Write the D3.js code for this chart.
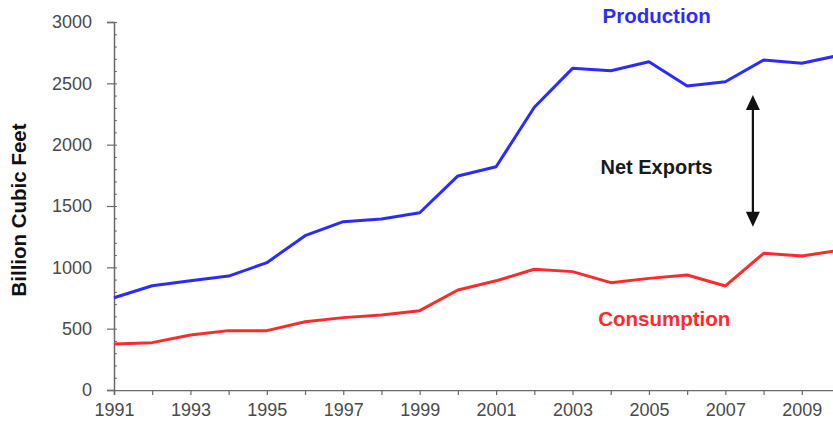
<!DOCTYPE html>
<html>
<head>
<meta charset="utf-8">
<script src="https://cdn.jsdelivr.net/npm/d3@7"></script>
<style>
  html, body { margin: 0; padding: 0; background: #fff; }
  svg { display: block; font-family: Arial, "Liberation Sans", sans-serif; }
</style>
</head>
<body>
<svg id="chart" width="833" height="429"></svg>
<script>
// Annual natural gas production and consumption, billion cubic feet
const years = d3.range(1991, 2011);
const production  = [752, 850, 891, 929, 1038, 1258, 1372, 1394, 1445, 1745, 1820, 2305, 2622, 2603, 2676, 2478, 2513, 2690, 2663, 2730];
const consumption = [375, 386, 448, 484, 484, 557, 590, 611, 647, 815, 890, 984, 965, 875, 910, 937, 848, 1114, 1092, 1140];
const yTicks = [0, 500, 1000, 1500, 2000, 2500, 3000];
const xTickLabels = [1991, 1993, 1995, 1997, 1999, 2001, 2003, 2005, 2007, 2009];

// Annotation: gap between the two series, in data units
const arrowYear = 2007.72;
const arrowFrom = 1330;
const arrowTo = 2405;

const svg = d3.select("#chart");
const W = 833, H = 429;

const x = d3.scaleLinear().domain([1991, 2010]).range([114, 840]);
const y = d3.scaleLinear().domain([0, 3000]).range([390, 22]);

svg.append("defs").append("clipPath").attr("id", "plotClip")
  .append("rect").attr("x", 0).attr("y", 0).attr("width", W).attr("height", H);

const axisColor = "#6a6a6a";
const labelColor = "#4a4a4a";

// Y axis: major ticks outward, minor ticks every 100 inward
const yAxis = svg.append("g").attr("transform", "translate(114,0)")
  .call(d3.axisLeft(y).tickValues(yTicks).tickSize(7).tickPadding(15).tickFormat(d3.format("d")));
yAxis.select(".domain").attr("stroke", axisColor).attr("stroke-width", 1.5);
yAxis.selectAll(".tick line").attr("stroke", axisColor).attr("stroke-width", 1.2);
yAxis.selectAll(".tick text").attr("fill", labelColor).style("font-size", "18px");

const yMinor = svg.append("g").attr("transform", "translate(114,0)")
  .call(d3.axisRight(y).tickValues(d3.range(0, 3001, 100)).tickSize(3).tickFormat(""));
yMinor.select(".domain").remove();
yMinor.selectAll(".tick line").attr("stroke", axisColor).attr("stroke-width", 1);

// X axis: a tick for every year, labels on odd years
const xAxis = svg.append("g").attr("transform", "translate(0,390)").attr("clip-path", "url(#plotClip)")
  .call(d3.axisBottom(x).tickValues(years).tickSize(5).tickPadding(8)
    .tickFormat(d => xTickLabels.includes(d) ? String(d) : ""));
xAxis.select(".domain").attr("stroke", axisColor).attr("stroke-width", 1.5);
xAxis.selectAll(".tick line").attr("stroke", axisColor).attr("stroke-width", 1.2);
xAxis.selectAll(".tick text").attr("fill", labelColor).style("font-size", "18px");

// Axis title
svg.append("text")
  .attr("transform", "translate(26," + ((22 + 390) / 2 + 4) + ") rotate(-90)")
  .attr("text-anchor", "middle")
  .style("font-size", "20.5px").style("font-weight", "bold").attr("fill", "#111")
  .text("Billion Cubic Feet");

// Series lines
const line = d3.line().x((d, i) => x(years[i])).y(d => y(d));
const plot = svg.append("g").attr("clip-path", "url(#plotClip)");
plot.append("path").datum(production)
  .attr("d", line).attr("fill", "none").attr("stroke", "#2b2bff")
  .attr("stroke-width", 3).attr("stroke-linejoin", "round");
plot.append("path").datum(consumption)
  .attr("d", line).attr("fill", "none").attr("stroke", "#ff2b2b")
  .attr("stroke-width", 3).attr("stroke-linejoin", "round");

// Series labels
svg.append("text").attr("x", x(2005.2)).attr("y", y(2990))
  .attr("text-anchor", "middle").style("font-size", "20.5px").style("font-weight", "bold")
  .attr("fill", "#2b2bff").text("Production");
svg.append("text").attr("x", x(2005.4)).attr("y", y(520))
  .attr("text-anchor", "middle").style("font-size", "20.5px").style("font-weight", "bold")
  .attr("fill", "#ff2b2b").text("Consumption");

// Net exports annotation
svg.append("text").attr("x", x(2005.2)).attr("y", y(1760))
  .attr("text-anchor", "middle").style("font-size", "20px").style("font-weight", "bold")
  .attr("fill", "#1a1a1a").text("Net Exports");

const ax = x(arrowYear), yTop = y(arrowTo), yBot = y(arrowFrom);
const headL = 15, headW = 7;
svg.append("line").attr("x1", ax).attr("x2", ax)
  .attr("y1", yTop + headL - 2).attr("y2", yBot - headL + 2)
  .attr("stroke", "#111").attr("stroke-width", 2.2);
svg.append("path")
  .attr("d", `M${ax},${yTop} L${ax - headW},${yTop + headL} L${ax + headW},${yTop + headL} Z`)
  .attr("fill", "#111");
svg.append("path")
  .attr("d", `M${ax},${yBot} L${ax - headW},${yBot - headL} L${ax + headW},${yBot - headL} Z`)
  .attr("fill", "#111");
</script>
</body>
</html>
